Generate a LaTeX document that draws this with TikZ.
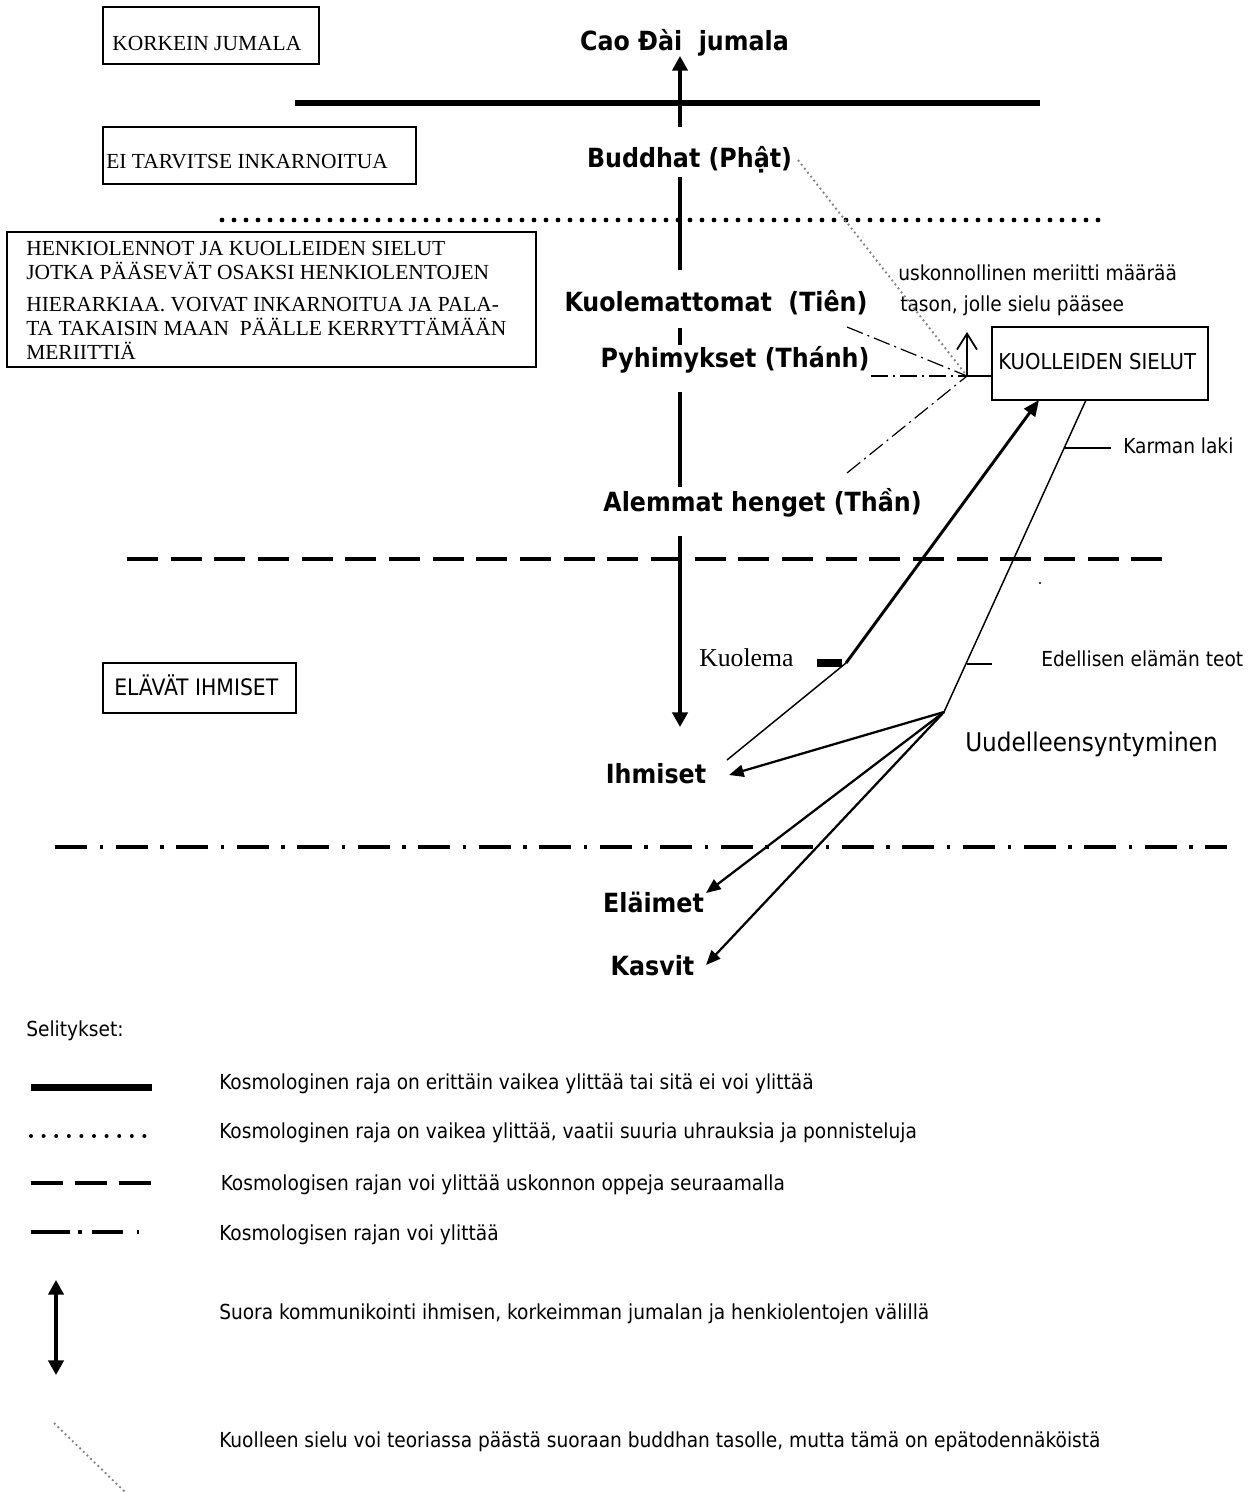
\documentclass[tikz,border=0pt]{standalone}
\usepackage{fontspec}
\setmainfont{Liberation Serif}
\newfontfamily\tah{DejaVu Sans Condensed}
\usetikzlibrary{arrows.meta}
\tikzset{
 boxst/.style={draw, line width=1.1pt, inner sep=0pt},
 lbl/.style={font=\tah\bfseries\fontsize{19.8}{22}\selectfont, inner sep=0pt, anchor=base},
 txt/.style={font=\tah\fontsize{15.5}{18}\selectfont, inner sep=0pt, anchor=base west},
 ser/.style={font=\fontsize{16.1}{19}\selectfont, inner sep=0pt, anchor=base west},
 thickline/.style={line width=4.5pt},
 dotline/.style={line width=3.6pt, line cap=round, dash pattern=on 0pt off 9pt},
 dashline/.style={line width=3pt, dash pattern=on 23.25pt off 9.5pt},
 ddline/.style={line width=3pt, dash pattern=on 24pt off 9.4pt on 2.6pt off 9.4pt},
 thindd/.style={line width=0.9pt, dash pattern=on 12.75pt off 3.75pt on 1.5pt off 3.75pt},
 greydot/.style={draw={rgb,255:red,130;green,130;blue,130}, line width=1.4pt, dash pattern=on 1.4pt off 2.4pt},
 comm/.style={line width=2.5pt},
 bigtip/.style={-{Triangle[width=11.5pt,length=11pt]}},
 thinline/.style={line width=1.1pt},
 rebirth/.style={line width=1.7pt, -{Triangle[width=9pt,length=11pt]}},
}
\begin{document}
\begin{tikzpicture}[x=0.75pt,y=-0.75pt]
\useasboundingbox (0,0) rectangle (1259,1492);
% ---- boxes on the left
\node[boxst, minimum width=162pt, minimum height=42.75pt] (korkein) at (211,35.5) {};
\node[ser] (korkeinT) at (112,50) {KORKEIN JUMALA};
\node[boxst, minimum width=234.75pt, minimum height=42.75pt] (eitarv) at (259.5,155.5) {};
\node[ser] (eitarvT) at (106,168) {EI TARVITSE INKARNOITUA};
\node[boxst, minimum width=396.75pt, minimum height=101.25pt] (henki) at (271.5,299.5) {};
\node[ser] (h1) at (26,255) {HENKIOLENNOT JA KUOLLEIDEN SIELUT};
\node[ser] (h2) at (26,279.3) {JOTKA PÄÄSEVÄT OSAKSI HENKIOLENTOJEN};
\node[ser] (h3) at (26,311.7) {HIERARKIAA. VOIVAT INKARNOITUA JA PALA-};
\node[ser] (h4) at (26,335) {TA TAKAISIN MAAN\ \ PÄÄLLE KERRYTTÄMÄÄN};
\node[ser] (h5) at (26,359.3) {MERIITTIÄ};
\node[boxst, minimum width=144.75pt, minimum height=37.5pt] (elavat) at (199.5,688) {};
\node[txt, font=\tah\fontsize{17}{20}\selectfont] (elavatT) at (114,695.7) {ELÄVÄT IHMISET};
% ---- level labels
\node[lbl] (cao) at (684.5,50) {Cao Đài\ \ jumala};
\node[lbl] (buddhat) at (689.5,167) {Buddhat (Phật)};
\node[lbl] (kuolem) at (716,311) {Kuolemattomat\ \ (Tiên)};
\node[lbl] (pyhim) at (735,367) {Pyhimykset (Thánh)};
\node[lbl] (alemmat) at (762.5,511.7) {Alemmat henget (Thần)};
\node[lbl] (ihmiset) at (656,783) {Ihmiset};
\node[lbl] (elaimet) at (653.5,912) {Eläimet};
\node[lbl] (kasvit) at (652.5,975) {Kasvit};
% ---- boundaries
\coordinate (b1a) at (295,103); \coordinate (b1b) at (1040,103);
\draw[thickline] (b1a) -- (b1b);
\coordinate (b2a) at (222,220); \coordinate (b2b) at (1107,220);
\draw[dotline] (b2a) -- (b2b);
\coordinate (b3a) at (127,559); \coordinate (b3b) at (1172,559);
\draw[dashline] (b3a) -- (b3b);
\coordinate (b4a) at (55,847); \coordinate (b4b) at (1227,847);
\draw[ddline] (b4a) -- (b4b);
% ---- vertical communication axis
\coordinate (v0) at (680,127); \coordinate (v0t) at (680,56);
\draw[comm, bigtip] (v0) -- (v0t);
\coordinate (v1a) at (680,177); \coordinate (v1b) at (680,270);
\draw[comm] (v1a) -- (v1b);
\coordinate (v2a) at (680,328); \coordinate (v2b) at (680,345);
\draw[comm] (v2a) -- (v2b);
\coordinate (v3a) at (680,392); \coordinate (v3b) at (680,487);
\draw[comm] (v3a) -- (v3b);
\coordinate (v4a) at (680,536); \coordinate (v4b) at (680,727);
\draw[comm, bigtip] (v4a) -- (v4b);
% ---- souls of the dead
\node[boxst, minimum width=162pt, minimum height=54.75pt] (sielut) at (1100,363.5) {};
\node[txt, font=\tah\fontsize{16.4}{19}\selectfont] (sielutT) at (998,369) {KUOLLEIDEN SIELUT};
\node[txt] (usk1) at (898,280) {uskonnollinen meriitti määrää};
\node[txt] (usk2) at (900,311.7) {tason, jolle sielu pääsee};
\coordinate (C) at (967,376);
\coordinate (kt) at (847,327);
\coordinate (pt) at (871,376);
\coordinate (at) at (847,473);
\coordinate (up) at (967,332);
\coordinate (bp) at (798,160);
\draw[greydot] (bp) -- (C);
\draw[thindd] (kt) -- (C);
\draw[thindd] (pt) -- (C);
\draw[thindd] (at) -- (C);
\draw[thinline] (C) -- (sielut.west |- C);
\draw[line width=1.3pt, -{Straight Barb[width=15pt,length=12pt]}] (C) -- (up);
% ---- death path
\coordinate (K) at (846,663);
\coordinate (tipA) at (1039,400);
\coordinate (ih0) at (727,760);
\draw[line width=2.2pt, -{Triangle[width=10pt,length=12pt]}] (K) -- (tipA);
\draw[thinline] (K) -- (ih0);
\node[ser, font=\fontsize{19.3}{22}\selectfont] (kuolema) at (699,666.7) {Kuolema};
\fill (817,659) rectangle (842,667);
% ---- karma path
\coordinate (ks) at (1086,400);
\coordinate (R) at (944,712);
\draw[thinline] (ks) -- (R);
\coordinate (kl0) at (1064,448); \coordinate (kl1) at (1111,448);
\draw[thinline] (kl0) -- (kl1);
\node[txt] (karman) at (1123,453) {Karman laki};
\coordinate (ed0) at (967,664); \coordinate (ed1) at (992,664);
\draw[thinline] (ed0) -- (ed1);
\node[txt] (edell) at (1041,666.7) {Edellisen elämän teot};
\fill (1040,583) circle (0.9pt);
\node[txt, font=\tah\fontsize{19.3}{22}\selectfont] (uudel) at (965,751.7) {Uudelleensyntyminen};
\coordinate (tI) at (729,775);
\coordinate (tE) at (706,893);
\coordinate (tK) at (706,965);
\draw[rebirth] (R) -- (tI);
\draw[rebirth] (R) -- (tE);
\draw[rebirth] (R) -- (tK);
% ---- legend
\node[txt] (selit) at (26,1036) {Selitykset:};
\coordinate (l1a) at (31,1087); \coordinate (l1b) at (152,1087);
\draw[line width=5.25pt] (l1a) -- (l1b);
\node[txt] (lt1) at (219,1089.3) {Kosmologinen raja on erittäin vaikea ylittää tai sitä ei voi ylittää};
\coordinate (l2a) at (31,1136); \coordinate (l2b) at (145,1136);
\draw[line width=3pt, line cap=round, dash pattern=on 0pt off 9.45pt] (l2a) -- (l2b);
\node[txt] (lt2) at (219,1138.5) {Kosmologinen raja on vaikea ylittää, vaatii suuria uhrauksia ja ponnisteluja};
\coordinate (l3a) at (31,1183); \coordinate (l3b) at (152,1183);
\draw[line width=3pt, dash pattern=on 24pt off 9pt] (l3a) -- (l3b);
\node[txt] (lt3) at (220.5,1190) {Kosmologisen rajan voi ylittää uskonnon oppeja seuraamalla};
\coordinate (l4a) at (31,1232); \coordinate (l4b) at (139,1232);
\draw[line width=3pt, dash pattern=on 29.25pt off 6pt on 3pt off 7.5pt on 23.25pt off 10.5pt on 1.5pt off 20pt] (l4a) -- (l4b);
\node[txt] (lt4) at (219,1240.7) {Kosmologisen rajan voi ylittää};
\coordinate (l5a) at (56,1280); \coordinate (l5b) at (56,1375);
\draw[comm, {Triangle[width=11.5pt,length=11pt]}-{Triangle[width=11.5pt,length=11pt]}] (l5a) -- (l5b);
\node[txt] (lt5) at (219,1319) {Suora kommunikointi ihmisen, korkeimman jumalan ja henkiolentojen välillä};
\coordinate (l6a) at (54,1423); \coordinate (l6b) at (125,1492);
\draw[greydot] (l6a) -- (l6b);
\node[txt] (lt6) at (219,1447.7) {Kuolleen sielu voi teoriassa päästä suoraan buddhan tasolle, mutta tämä on epätodennäköistä};
\end{tikzpicture}
\end{document}
